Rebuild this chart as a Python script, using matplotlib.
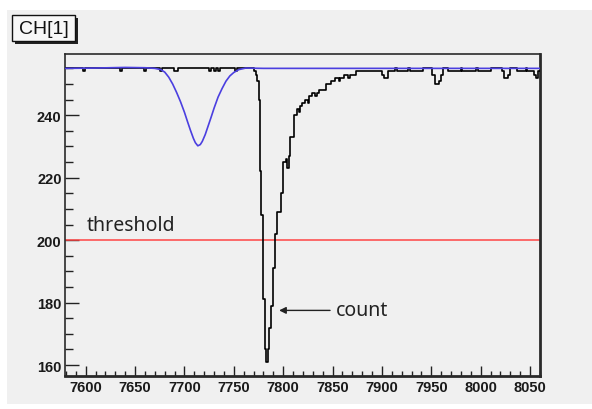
"""
plot.py

CH[1] pulse trace: ADC histogram (black steps) vs. reference fit (blue),
with the 200-count trigger threshold in red. Values read off the screenshot.
"""

import matplotlib
matplotlib.use('Agg')
import matplotlib.pyplot as plt
from matplotlib.ticker import MultipleLocator
from matplotlib.patches import Rectangle

# --- reference fit (blue) --------------------------------------------
fit_x = [7579, 7610, 7640, 7660, 7670, 7676, 7680, 7684, 7688, 7692,
         7696, 7700, 7703, 7706, 7709, 7711, 7713.5, 7716, 7718, 7721,
         7724, 7727, 7730, 7734, 7738, 7742, 7746, 7750, 7755, 7762,
         7780, 7850, 7950, 8060]
fit_y = [255.0, 255.1, 255.3, 255.2, 255.0, 254.6, 253.8, 252.2, 250.0, 247.3,
         244.3, 240.9, 238.0, 235.2, 232.6, 231.2, 230.2, 230.6, 231.6, 233.8,
         236.6, 239.4, 242.3, 245.8, 248.5, 250.9, 252.6, 253.7, 254.6, 255.1,
         255.0, 255.0, 255.0, 255.0]

# --- ADC histogram (black), left bin edge -> level --------------------
count_edges = [7579, 7597, 7599, 7635, 7637, 7659, 7661, 7675, 7677, 7689,
               7693, 7725, 7727, 7730, 7732, 7734, 7736, 7751, 7753, 7770,
               7772, 7773, 7775, 7776, 7777.5, 7779, 7780, 7781.5, 7783, 7785,
               7786, 7788, 7790, 7792, 7794, 7798, 7800, 7802.5, 7804, 7805.5,
               7807, 7811, 7814, 7816, 7817, 7819, 7822, 7825, 7826, 7829,
               7832, 7834, 7836, 7843, 7848, 7852, 7856, 7857, 7862, 7866,
               7868, 7874, 7900, 7902, 7906, 7913, 7915, 7926, 7928, 7942,
               7951, 7954, 7958, 7960, 7962, 7967, 7980, 7981, 7995, 7997,
               8010, 8022, 8024, 8028, 8030, 8037, 8046, 8047, 8054, 8056,
               8058]
count_levels = [255, 254, 255, 254, 255, 254, 255, 254, 255, 254,
                255, 254, 255, 254, 255, 254, 255, 254, 255, 254,
                253, 251, 245, 222, 208, 194, 181, 165, 161, 165,
                172, 179, 191, 202, 209, 215, 225, 226, 223, 227,
                233, 240, 242, 241, 243, 244, 245, 244, 246, 247,
                246, 247, 248, 250, 251, 252, 251, 252, 253, 252,
                253, 254, 253, 252, 254, 255, 254, 255, 254, 255,
                253, 250, 251, 253, 255, 254, 255, 254, 255, 254,
                255, 254, 252, 253, 255, 254, 255, 254, 253, 252,
                254]
x_end = 8060

threshold = 200

PX_W, PX_H = 592, 410


def fx(px):
    return px / PX_W


def fy(py):
    return 1 - py / PX_H


def main():
    fig = plt.figure(figsize=(PX_W / 100, PX_H / 100), dpi=100)
    fig.patch.set_facecolor('white')

    # canvas panel (behind the axes)
    fig.patches.append(Rectangle((fx(7), fy(405)), fx(592 - 7), (405 - 11) / PX_H,
                                 transform=fig.transFigure, facecolor='#f0f0f0',
                                 edgecolor='none', zorder=-5))

    ax = fig.add_axes([fx(65), fy(377.3), fx(540 - 65), (377.3 - 55) / PX_H])
    ax.set_facecolor('#f0f0f0')

    ax.step(count_edges + [x_end], count_levels + [count_levels[-1]],
            where='post', color='black', lw=1.2, zorder=3)
    ax.plot(fit_x, fit_y, color='#4b3fe0', lw=1.2, zorder=4)
    ax.axhline(threshold, color='#ff4545', lw=1.1, zorder=2)

    ax.set_xlim(7579, 8060)
    ax.set_ylim(156.4, 259.6)

    ax.xaxis.set_major_locator(MultipleLocator(50))
    ax.xaxis.set_minor_locator(MultipleLocator(10))
    ax.yaxis.set_major_locator(MultipleLocator(20))
    ax.yaxis.set_minor_locator(MultipleLocator(5))

    ax.tick_params(axis='x', which='major', direction='in', length=7.2, width=1, pad=3)
    ax.tick_params(axis='x', which='minor', direction='in', length=3.6, width=1)
    ax.tick_params(axis='y', which='major', direction='in', length=10, width=1, pad=2.5)
    ax.tick_params(axis='y', which='minor', direction='in', length=5.8, width=1)
    ax.tick_params(top=False, right=False, which='both', colors='#222')
    for lbl in ax.get_xticklabels() + ax.get_yticklabels():
        lbl.set_fontfamily('Liberation Sans')
        lbl.set_fontsize(10.5)
        lbl.set_fontweight('bold')
        lbl.set_color('#1a1a1a')

    ax.spines['left'].set_linewidth(1.2)
    ax.spines['top'].set_linewidth(1.2)
    ax.spines['right'].set_linewidth(2.0)
    ax.spines['bottom'].set_linewidth(2.0)
    for s in ax.spines.values():
        s.set_color('#2a2a2a')

    # annotations
    ax.text(7601, 203.2, 'threshold', family='Noto Sans', fontsize=14,
            color='#222', va='baseline', ha='left', zorder=5)
    ax.text(7853.5, 175.9, 'count', family='Noto Sans', fontsize=14,
            color='#222', va='baseline', ha='left', zorder=5)
    ax.annotate('', xy=(7795.8, 177.5), xytext=(7847.4, 177.5),
                arrowprops=dict(arrowstyle='-|>', color='#222', lw=1,
                                mutation_scale=10, shrinkA=0, shrinkB=0),
                zorder=5)

    # title box with shadow
    fig.patches.append(Rectangle((fx(15), fy(44.5)), fx(63), 26 / PX_H,
                                 transform=fig.transFigure, facecolor='#222',
                                 edgecolor='none', zorder=1))
    fig.patches.append(Rectangle((fx(12), fy(42)), fx(63), 26 / PX_H,
                                 transform=fig.transFigure, facecolor='#f7f7f7',
                                 edgecolor='#111', lw=1, zorder=2))
    fig.text(fx(43.5), fy(29.5), 'CH[1]', family='Liberation Sans', fontsize=14,
             color='#111', ha='center', va='center', zorder=3)

    fig.savefig('out.png', dpi=100, facecolor=fig.get_facecolor())
    plt.close(fig)


if __name__ == '__main__':
    main()
